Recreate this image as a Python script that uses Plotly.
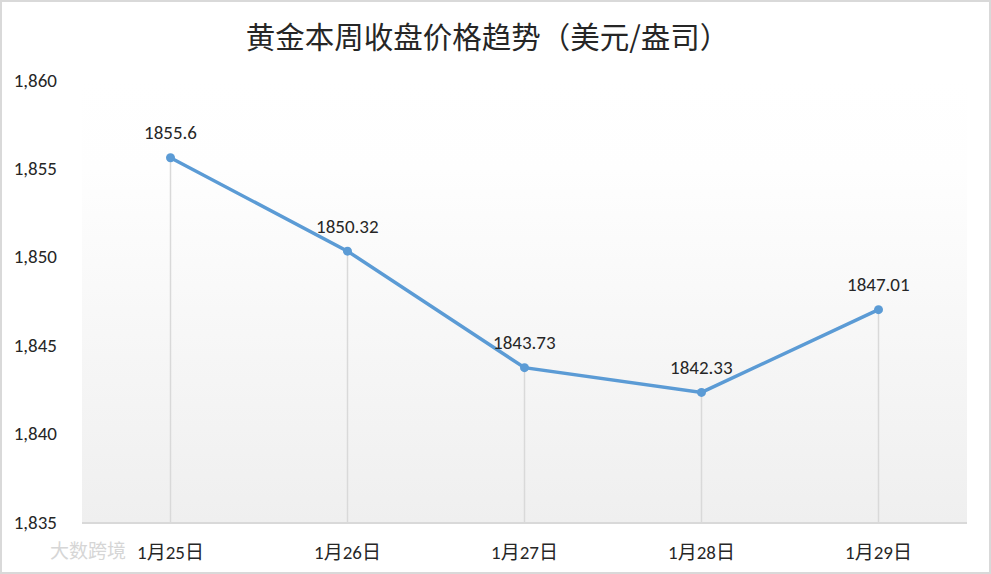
import base64
import plotly.graph_objects as go

dates = ["1月25日", "1月26日", "1月27日", "1月28日", "1月29日"]
close_prices = [1855.6, 1850.32, 1843.73, 1842.33, 1847.01]
price_labels = ["1855.6", "1850.32", "1843.73", "1842.33", "1847.01"]
y_ticks = [1835, 1840, 1845, 1850, 1855, 1860]
y_min, y_max = 1835, 1860

font_main = "Calibri, Carlito, 'Noto Sans', 'Noto Sans CJK SC', sans-serif"
font_cjk = "'Noto Sans CJK SC', sans-serif"

# soft vertical gradient behind the plot area (Excel style)
svg = (
    '<svg xmlns="http://www.w3.org/2000/svg" width="100" height="100" preserveAspectRatio="none">'
    '<defs><linearGradient id="g" x1="0" y1="0" x2="0" y2="1">'
    '<stop offset="0" stop-color="#ffffff"/>'
    '<stop offset="0.2" stop-color="#fefefe"/>'
    '<stop offset="1" stop-color="#efefef"/>'
    '</linearGradient></defs>'
    '<rect width="100" height="100" fill="url(#g)"/></svg>'
)
svg_uri = "data:image/svg+xml;base64," + base64.b64encode(svg.encode()).decode()

fig = go.Figure()

fig.add_trace(go.Scatter(
    x=dates, y=close_prices,
    mode="lines+markers",
    line=dict(color="#5b9bd5", width=3.5),
    marker=dict(color="#5b9bd5", size=9),
    error_y=dict(
        type="data", symmetric=False,
        array=[0] * len(close_prices),
        arrayminus=[v - y_min for v in close_prices],
        color="#d9d9d9", thickness=1.5, width=0,
    ),
    cliponaxis=False,
    showlegend=False,
))

W, L, R, T, B = 885, 82, 24, 80, 52
H = 574 - T - B

labels = [
    dict(x=d, y=v, text=t, showarrow=False, yanchor="middle", yshift=25,
         font=dict(size=19, color="#262626", family=font_main))
    for d, v, t in zip(dates, close_prices, price_labels)
]
labels.append(dict(
    text="大数跨境", xref="paper", yref="paper",
    x=-34 / W, y=-27 / H, xanchor="left", yanchor="middle",
    showarrow=False,
    font=dict(size=19, color="#d6d6d6", family=font_cjk),
))

fig.update_layout(
    width=991, height=574,
    margin=dict(l=L, r=R, t=T, b=B, autoexpand=False),
    paper_bgcolor="white",
    plot_bgcolor="rgba(0,0,0,0)",
    font=dict(family=font_main, size=19, color="#262626"),
    title=dict(
        text="黄金本周收盘价格趋势（美元/盎司）",
        x=0.492, xanchor="center", y=0.935, yanchor="middle",
        font=dict(size=29.5, color="#262626", family=font_cjk),
    ),
    images=[dict(
        source=svg_uri, xref="paper", yref="paper",
        x=0, y=1, sizex=1, sizey=1, xanchor="left", yanchor="top",
        sizing="stretch", layer="below",
    )],
    shapes=[dict(
        type="rect", xref="paper", yref="paper",
        x0=-(L - 1) / W, x1=1 + (R - 1) / W, y0=-(B - 1) / H, y1=1 + (T - 1) / H,
        line=dict(color="#d9d9d9", width=2), fillcolor="rgba(0,0,0,0)",
        layer="below",
    )],
    annotations=labels,
)

fig.update_xaxes(
    type="category", automargin=False,
    range=[-0.5, len(dates) - 0.5],
    showgrid=False,
    showline=True, linecolor="#d9d9d9", linewidth=1.5,
    ticks="", tickfont=dict(size=19, family=font_main),
    ticklabelstandoff=12,
)

fig.update_yaxes(
    range=[y_min, y_max], automargin=False,
    tickvals=y_ticks,
    tickformat=",d",
    showgrid=False, zeroline=False, showline=False,
    ticks="", tickfont=dict(size=19, family=font_main),
    ticklabelstandoff=24,
)

fig.write_html(
    "out.html",
    config={"displayModeBar": False},
    post_script="document.body.style.margin='0';",
)
